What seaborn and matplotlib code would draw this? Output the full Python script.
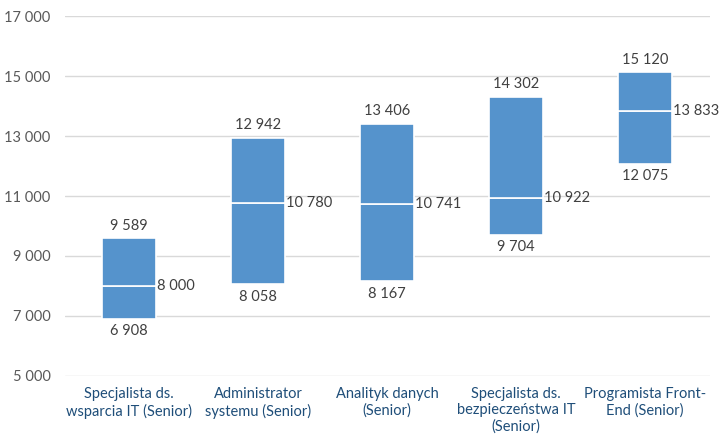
import matplotlib
matplotlib.use("Agg")
import matplotlib.pyplot as plt
import seaborn as sns
import pandas as pd
from matplotlib.ticker import FuncFormatter

categories = ["Specjalista ds.\nwsparcia IT (Senior)", "Administrator\nsystemu (Senior)",
              "Analityk danych\n(Senior)", "Specjalista ds.\nbezpieczeństwa IT\n(Senior)",
              "Programista Front-\nEnd (Senior)"]
min_vals = [6908, 8058, 8167, 9704, 12075]
median_vals = [8000, 10780, 10741, 10922, 13833]
max_vals = [9589, 12942, 13406, 14302, 15120]
y_ticks = [5000, 7000, 9000, 11000, 13000, 15000, 17000]

sns.set_style("white")
plt.rcParams['font.family'] = ['Lato', 'DejaVu Sans']

df = pd.DataFrame({"cat": categories, "lo": min_vals, "med": median_vals, "hi": max_vals})
df["h1"] = df["med"] - df["lo"]
df["h2"] = df["hi"] - df["med"]

fig = plt.figure(figsize=(7.2, 4.47), dpi=100)
ax = fig.add_axes([0.0896, 0.159, 0.896, 0.805])

blue = "#5593CC"
sns.barplot(data=df, x="cat", y="h1", bottom=df["lo"], color=blue, width=0.42,
            edgecolor="white", linewidth=1.2, saturation=1, ax=ax, zorder=3)
sns.barplot(data=df, x="cat", y="h2", bottom=df["med"], color=blue, width=0.42,
            edgecolor="white", linewidth=1.2, saturation=1, ax=ax, zorder=3)

ax.set_ylim(5000, 17000)
ax.set_yticks(y_ticks)
fmt = lambda v: f"{int(v):,}".replace(",", " ")
ax.yaxis.set_major_formatter(FuncFormatter(lambda v, p: fmt(v)))
ax.grid(axis="y", color="#D9D9D9", linewidth=1, zorder=0)
ax.set_axisbelow(True)
for s in ax.spines.values():
    s.set_visible(False)
ax.tick_params(axis="y", length=0, pad=10, labelsize=10.5, labelcolor="#595959")
ax.tick_params(axis="x", length=0, pad=8, labelsize=10.5, labelcolor="#1F4E79")
ax.set_xlabel("")
ax.set_ylabel("")
ax.set_xlim(-0.5, 4.5)

lab_c = "#404040"
for i in range(len(categories)):
    ax.annotate(fmt(max_vals[i]), (i, max_vals[i]), xytext=(0, 4), textcoords="offset points",
                ha="center", va="bottom", fontsize=10.5, color=lab_c)
    ax.annotate(fmt(min_vals[i]), (i, min_vals[i]), xytext=(0, -4), textcoords="offset points",
                ha="center", va="top", fontsize=10.5, color=lab_c)
    ax.annotate(fmt(median_vals[i]), (i + 0.21, median_vals[i]), xytext=(0.5, 0), textcoords="offset points",
                ha="left", va="center", fontsize=10.5, color=lab_c)

fig.savefig("out.png", dpi=100)
